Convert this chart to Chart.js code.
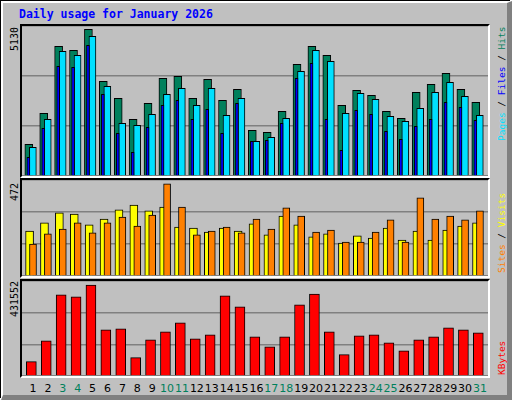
<!DOCTYPE html>
<html><head><meta charset="utf-8">
<script src="https://cdn.jsdelivr.net/npm/chart.js@4"></script>
<style>
html,body{margin:0;padding:0;background:#fff;}
#frame{position:absolute;left:0;top:0;width:510px;height:398px;background:#c0c0c0;border:1px solid #000;box-sizing:border-box;}
#bevel{position:absolute;left:1px;top:1px;width:504px;height:392px;border-top:2px solid #fff;border-left:2px solid #fff;border-right:5px solid #808080;border-bottom:5px solid #808080;box-sizing:content-box;}
.panel{position:absolute;border-top:2px solid #000;border-left:2px solid #000;border-right:2px solid #fff;border-bottom:2px solid #fff;}
.panel canvas{display:block;}
.t{position:absolute;font-family:"DejaVu Sans Mono",monospace;font-size:11.5px;white-space:nowrap;}
.rot{position:absolute;font-family:"DejaVu Sans Mono",monospace;font-size:9.5px;line-height:11px;white-space:nowrap;transform-origin:0 0;transform:rotate(-90deg);}
.xl{position:absolute;top:382px;font-family:"DejaVu Sans",sans-serif;font-size:11px;transform:translateX(-50%);}
</style></head><body>
<div id="frame"></div><div id="bevel"></div>
<div class="t" style="left:19px;top:7px;color:#0000ff;font-weight:bold;">Daily usage for January 2026</div>
<div class="panel" style="left:20px;top:24px;width:466px;height:150px;"><canvas id="c1" width="466" height="150" style="width:466px;height:150px"></canvas></div>
<div class="panel" style="left:20px;top:178px;width:466px;height:96px;"><canvas id="c2" width="466" height="96" style="width:466px;height:96px"></canvas></div>
<div class="panel" style="left:20px;top:279px;width:466px;height:95px;"><canvas id="c3" width="466" height="95" style="width:466px;height:95px"></canvas></div>
<div class="rot" style="left:9px;top:51px;font-size:10px;">5130</div>
<div class="rot" style="left:9px;top:201px;font-size:10px;">472</div>
<div class="rot" style="left:9px;top:317px;font-size:10px;">431552</div>
<div class="rot" style="left:496px;top:141px;"><span style="color:#00e0ff">Pages</span> <span style="color:#000">/</span> <span style="color:#0000ff">Files</span> <span style="color:#000">/</span> <span style="color:#00805c">Hits</span></div>
<div class="rot" style="left:496px;top:273px;"><span style="color:#ff8000">Sites</span> <span style="color:#000">/</span> <span style="color:#ffff00">Visits</span></div>
<div class="rot" style="left:496px;top:375px;"><span style="color:#ff0000">KBytes</span></div>
<div id="xlabels"></div>
<script>
const days = Array.from({length:31},(_,i)=>i+1);
const weekend = [3,4,10,11,17,18,24,25,31];
const hits = [1084,2144,4436,4299,5017,3239,2657,1939,2486,3341,3410,2657,3307,2589,2965,1563,1494,2213,3820,4436,4128,2418,2931,2760,2213,1973,2862,3136,3512,2965,2520];
const files = [982,1939,4265,4128,4778,3068,1802,1734,2110,2794,2999,2418,2999,2076,2657,1187,1324,1973,3581,4299,3923,2144,2828,2623,2042,1871,2315,2863,3205,2726,2076];
const pages = [640,1631,3752,3718,4470,2794,1460,811,1666,2418,2589,1939,2281,1460,2486,1187,1221,1802,3341,3854,1939,879,2247,2110,1529,1255,1700,1939,2521,2350,1905];
const sites = [221,261,310,305,251,280,325,349,320,339,241,236,216,236,221,256,202,295,251,192,207,162,197,187,236,177,221,177,226,246,261];
const visits = [157,207,231,261,212,261,290,246,300,453,339,202,221,241,212,280,231,335,295,216,226,167,167,216,276,167,384,280,295,276,320];
const kbytes = [65130,160110,368170,359130,413400,209870,214390,83220,164640,200820,241530,169160,187250,363650,313900,178210,132980,178210,322940,372700,200820,96790,182730,187250,151070,114880,164640,178210,218910,209870,196300];
const maxTop = 5130, maxMid = 472, maxBot = 431552;

Chart.defaults.animation = false;
Chart.defaults.responsive = false;
function ds(vals, off, w, color){
  return {data: vals.map((v,i)=>({x:days[i]+off,y:v})), backgroundColor:color, borderColor:'#000', borderWidth:1, borderSkipped:'bottom', barThickness:w, grouped:false};
}
function mk(id, sets, max){
  return new Chart(document.getElementById(id), {
    type:'bar', data:{datasets:sets},
    options:{
      layout:{padding:0},
      plugins:{legend:{display:false},tooltip:{enabled:false}},
      scales:{
        x:{type:'linear',min:0.262,max:31.54,offset:false,display:false,grid:{display:false,offset:false}},
        y:{min:0,max:max,afterBuildTicks:s=>{s.ticks=[0,max/3,2*max/3,max].map(v=>({value:v}));},
           ticks:{display:false},border:{display:false},grid:{color:'#808080',drawTicks:false,lineWidth:1.5}}
      }
    }
  });
}
mk('c1',[ds(pages,-0.31,3,'#0000ff'),ds(files,-0.01,7,'#00e0ff'),ds(hits,-0.28,8,'#00805c')],maxTop);
mk('c2',[ds(visits,0,7,'#ff8000'),ds(sites,-0.23,8,'#ffff00')],maxMid);
const c3 = mk('c3',[ds(kbytes,-0.11,10,'#ff0000')],maxBot);
const xl = document.getElementById('xlabels');
days.forEach(d=>{
  const s=document.createElement('div'); s.className='xl';
  s.style.left=(22+c3.scales.x.getPixelForValue(d))+'px';
  s.style.color=weekend.includes(d)?'#00805c':'#000';
  s.textContent=String(d); xl.appendChild(s);
});
</script></body></html>
